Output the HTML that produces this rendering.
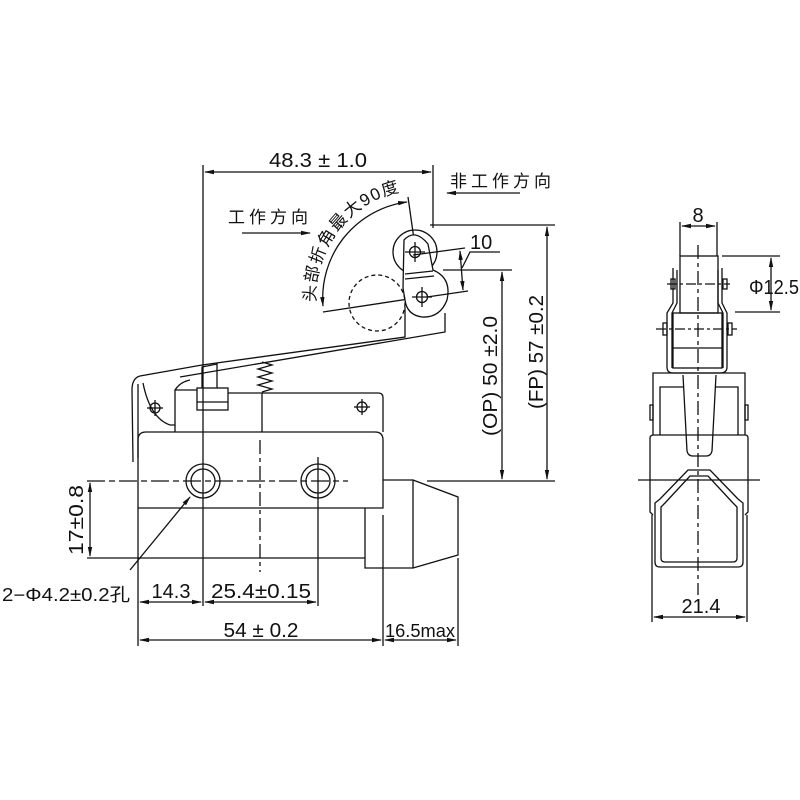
<!DOCTYPE html>
<html><head><meta charset="utf-8"><style>
html,body{margin:0;padding:0;background:#fff;}
svg{display:block;}
text{font-family:"Liberation Sans","Noto Sans CJK SC",sans-serif;fill:#111;}
</style></head><body>
<svg width="800" height="800" viewBox="0 0 800 800" xmlns="http://www.w3.org/2000/svg">
<defs>
<marker id="a" markerWidth="10" markerHeight="6" refX="9" refY="3" orient="auto-start-reverse" markerUnits="userSpaceOnUse">
<path d="M0,0.8 L10,3 L0,5.2 z" fill="#111"/></marker>
</defs>
<g fill="none" stroke="#111" stroke-width="1.3">
<line x1="203" y1="165" x2="203" y2="606"/>
<line x1="433" y1="165" x2="433" y2="228"/>
<line x1="205" y1="172" x2="431" y2="172" marker-start="url(#a)" marker-end="url(#a)"/>
<line x1="520" y1="193" x2="447" y2="193" marker-end="url(#a)"/>
<line x1="242" y1="233" x2="310" y2="233" marker-end="url(#a)"/>
<path d="M323,306 A97,97 0 0 1 407,202" marker-start="url(#a)" marker-end="url(#a)"/>
<line x1="323" y1="312" x2="448" y2="293"/>
<line x1="408" y1="197" x2="424" y2="310"/>
<circle cx="415" cy="252" r="22"/>
<path d="M403,288 L404,240 Q415,228 428,244 L433,270 Q452,278 447,300 Q440,318 422,317 Q407,315 405,300 Z" fill="#fff"/>
<line x1="405" y1="274" x2="433" y2="271"/>
<line x1="405" y1="279" x2="434" y2="276"/>
<circle cx="415" cy="252" r="5.5"/>
<line x1="405" y1="252" x2="425" y2="252"/><line x1="415" y1="242" x2="415" y2="262"/>
<circle cx="422" cy="297" r="5.5"/>
<line x1="412" y1="297" x2="432" y2="297"/><line x1="422" y1="287" x2="422" y2="307"/>
<line x1="413" y1="255" x2="465" y2="248"/>
<line x1="427" y1="297" x2="468" y2="291"/>
<circle cx="377" cy="303" r="28" stroke-dasharray="4,3"/>
<path d="M405,307 L405,337 L202,365 L140,376 Q132,378 132,390 L133,462"/>
<path d="M445,313 L445,332 L180,377"/>
<line x1="138" y1="384" x2="138" y2="458"/>
<path d="M143,383 Q150,418 170,425 L175,425 L175,390 Q180,382 190,380"/>
<circle cx="155" cy="408" r="5"/><line x1="147" y1="408" x2="163" y2="408"/><line x1="155" y1="400" x2="155" y2="416"/>
<rect x="197" y="388" width="31" height="22"/>
<line x1="197" y1="402" x2="228" y2="402"/>
<path d="M202,388 L202,367 L217,364 L217,388"/>
<polyline points="262,392 272,389 258,385 272,381 258,377 272,373 258,369 272,365 262,362"/>
<line x1="175" y1="390" x2="197" y2="390"/>
<path d="M228,393 L378,393 Q383,393 383,398 L383,432"/>
<line x1="262" y1="393" x2="262" y2="432"/>
<line x1="175" y1="425" x2="175" y2="432"/>
<circle cx="362" cy="407" r="5"/><line x1="354" y1="407" x2="370" y2="407"/><line x1="362" y1="399" x2="362" y2="415"/>
<path d="M138,646 L138,440 Q138,432 146,432 L375,432 Q383,432 383,440 L383,508 L138,508"/>
<path d="M365,508 L365,568 L413,568 L413,480 L383,480"/>
<line x1="87" y1="558" x2="365" y2="558"/>
<path d="M413,480 L458,497 L458,555 L413,568"/>
<circle cx="203" cy="481" r="17"/><circle cx="203" cy="481" r="12"/>
<circle cx="318" cy="481" r="17"/><circle cx="318" cy="481" r="12"/>
<line x1="87" y1="481" x2="348" y2="481" stroke-dasharray="18,4,6,4"/>
<line x1="427" y1="481" x2="555" y2="481"/>
<line x1="260" y1="440" x2="260" y2="572" stroke-dasharray="14,4,4,4"/>
<line x1="318" y1="457" x2="318" y2="606"/>
<line x1="383" y1="515" x2="383" y2="646"/>
<line x1="458" y1="558" x2="458" y2="646"/>
<line x1="90" y1="483" x2="90" y2="556" marker-start="url(#a)" marker-end="url(#a)"/>
<line x1="130" y1="570" x2="190" y2="497" marker-end="url(#a)"/>
<line x1="140" y1="602" x2="201" y2="602" marker-start="url(#a)" marker-end="url(#a)"/>
<line x1="205" y1="602" x2="316" y2="602" marker-start="url(#a)" marker-end="url(#a)"/>
<line x1="140" y1="640" x2="381" y2="640" marker-start="url(#a)" marker-end="url(#a)"/>
<line x1="385" y1="640" x2="456" y2="640" marker-start="url(#a)" marker-end="url(#a)"/>
<line x1="430" y1="225" x2="555" y2="225"/>
<line x1="443" y1="270" x2="512" y2="270"/>
<line x1="547" y1="227" x2="547" y2="479" marker-start="url(#a)" marker-end="url(#a)"/>
<line x1="502" y1="272" x2="502" y2="479" marker-start="url(#a)" marker-end="url(#a)"/>
<line x1="460" y1="251" x2="463" y2="290" marker-start="url(#a)" marker-end="url(#a)"/>
<polyline points="462,268 470,252 500,252"/>
<line x1="680" y1="222" x2="680" y2="256"/><line x1="717" y1="222" x2="717" y2="256"/>
<line x1="682" y1="226" x2="715" y2="226" marker-start="url(#a)" marker-end="url(#a)"/>
<rect x="680" y="256" width="38" height="57"/>
<line x1="722" y1="256" x2="780" y2="256"/><line x1="735" y1="312" x2="780" y2="312"/>
<line x1="771" y1="258" x2="771" y2="310" marker-start="url(#a)" marker-end="url(#a)"/>
<line x1="698" y1="245" x2="698" y2="595" stroke-dasharray="14,4,4,4"/>
<path d="M673,268 L673,303 L667,313 L667,367 Q667,373 673,373 L720,373 Q727,373 727,367 L727,313 L722,303 L722,268"/>
<path d="M677,270 L677,303 L672,313 L672,368 M718,270 L718,303 L723,313 L723,368"/>
<rect x="673" y="313" width="49" height="55"/>
<line x1="673" y1="348" x2="722" y2="348"/>
<line x1="667" y1="284" x2="730" y2="284" stroke-dasharray="10,3,3,3"/>
<line x1="656" y1="329" x2="737" y2="329" stroke-dasharray="10,3,3,3"/>
<rect x="671" y="279" width="4" height="10"/><rect x="723" y="279" width="4" height="10"/>
<rect x="663" y="323" width="4" height="12"/><rect x="728" y="323" width="4" height="12"/>
<path d="M683,375 L687,451 Q688,456 693,456 L706,456 Q711,456 712,451 L716,375"/>
<path d="M653,435 L653,373 L745,373 L745,435"/>
<path d="M660,435 L660,387 L683,387 M716,387 L738,387 L738,435"/>
<rect x="650" y="405" width="3" height="15"/><rect x="745" y="405" width="3" height="15"/>
<path d="M653,515 L650,512 L650,438 Q650,435 654,435 L745,435 Q748,435 748,438 L748,512 L745,515"/>
<path d="M688,470 L710,470 L738,499 L743,503 L743,562 Q743,567 738,567 L660,567 Q655,567 655,562 L655,503 L660,499 Z"/>
<path d="M690,476 L708,476 L733,503 L737,507 L737,558 Q737,562 733,562 L665,562 Q661,562 661,558 L661,507 L665,503 Z"/>
<line x1="638" y1="480" x2="760" y2="480"/>
<line x1="652" y1="515" x2="652" y2="622"/><line x1="747" y1="515" x2="747" y2="622"/>
<line x1="654" y1="617" x2="745" y2="617" marker-start="url(#a)" marker-end="url(#a)"/>
</g>
<path id="arcT" d="M316,302 A107,107 0 0 1 412,190" fill="none"/>
<g font-size="20">
<text x="318" y="167" text-anchor="middle" textLength="98" lengthAdjust="spacingAndGlyphs">48.3 ± 1.0</text>
<text x="450" y="187" font-size="17" letter-spacing="4">非工作方向</text>
<text x="228" y="223" font-size="17" letter-spacing="4">工作方向</text>
<text font-size="17"><textPath href="#arcT" textLength="150" lengthAdjust="spacing">头部折角最大90度</textPath></text>
<text x="470" y="249">10</text>
<text transform="translate(497,376) rotate(-90)" text-anchor="middle" textLength="120" lengthAdjust="spacingAndGlyphs">(OP) 50 ±2.0</text>
<text transform="translate(543,352) rotate(-90)" text-anchor="middle" textLength="114" lengthAdjust="spacingAndGlyphs">(FP) 57 ±0.2</text>
<text transform="translate(83,520) rotate(-90)" text-anchor="middle" textLength="70" lengthAdjust="spacingAndGlyphs">17±0.8</text>
<text x="2" y="601" font-size="18" textLength="128" lengthAdjust="spacingAndGlyphs">2−Φ4.2±0.2孔</text>
<text x="171" y="598" text-anchor="middle">14.3</text>
<text x="261" y="598" text-anchor="middle" textLength="100" lengthAdjust="spacingAndGlyphs">25.4±0.15</text>
<text x="261" y="637" text-anchor="middle" textLength="75" lengthAdjust="spacingAndGlyphs">54 ± 0.2</text>
<text x="385" y="637" font-size="18" textLength="70" lengthAdjust="spacingAndGlyphs">16.5max</text>
<text x="698" y="222" text-anchor="middle">8</text>
<text x="749" y="294" textLength="50" lengthAdjust="spacingAndGlyphs">Φ12.5</text>
<text x="701" y="613" text-anchor="middle">21.4</text>
</g>
</svg>
</body></html>
